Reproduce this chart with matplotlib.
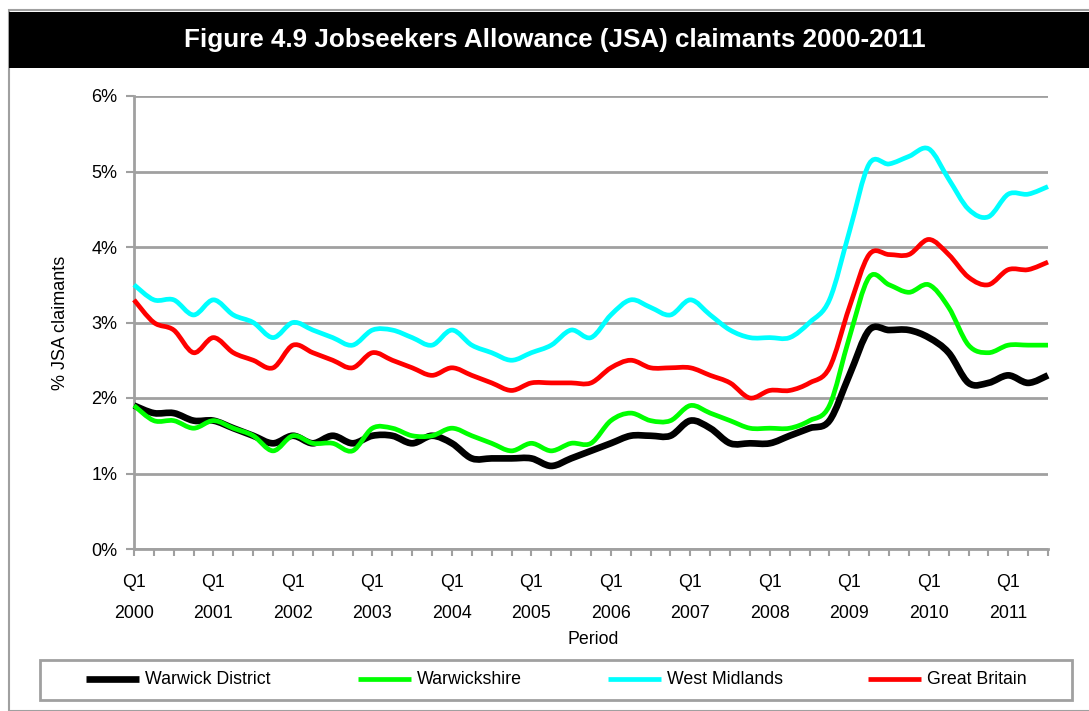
import matplotlib
matplotlib.use("Agg")
import matplotlib.pyplot as plt
from matplotlib.path import Path
from matplotlib.patches import PathPatch, Rectangle
from matplotlib.lines import Line2D
import numpy as np

plt.rcParams['font.family'] = ['Liberation Sans', 'DejaVu Sans']

years = list(range(2000, 2012))
quarters_n = 47  # 2000 Q1 .. 2011 Q3
tick_labels = [f"Q1\n{y}" for y in years]

warwick_district = [1.9, 1.8, 1.8, 1.7, 1.7, 1.6, 1.5, 1.4, 1.5, 1.4, 1.5, 1.4, 1.5, 1.5, 1.4, 1.5,
                    1.4, 1.2, 1.2, 1.2, 1.2, 1.1, 1.2, 1.3, 1.4, 1.5, 1.5, 1.5, 1.7, 1.6, 1.4, 1.4,
                    1.4, 1.5, 1.6, 1.7, 2.3, 2.9, 2.9, 2.9, 2.8, 2.6, 2.2, 2.2, 2.3, 2.2, 2.3]
warwickshire = [1.9, 1.7, 1.7, 1.6, 1.7, 1.6, 1.5, 1.3, 1.5, 1.4, 1.4, 1.3, 1.6, 1.6, 1.5, 1.5,
                1.6, 1.5, 1.4, 1.3, 1.4, 1.3, 1.4, 1.4, 1.7, 1.8, 1.7, 1.7, 1.9, 1.8, 1.7, 1.6,
                1.6, 1.6, 1.7, 1.9, 2.8, 3.6, 3.5, 3.4, 3.5, 3.2, 2.7, 2.6, 2.7, 2.7, 2.7]
west_midlands = [3.5, 3.3, 3.3, 3.1, 3.3, 3.1, 3.0, 2.8, 3.0, 2.9, 2.8, 2.7, 2.9, 2.9, 2.8, 2.7,
                 2.9, 2.7, 2.6, 2.5, 2.6, 2.7, 2.9, 2.8, 3.1, 3.3, 3.2, 3.1, 3.3, 3.1, 2.9, 2.8,
                 2.8, 2.8, 3.0, 3.3, 4.2, 5.1, 5.1, 5.2, 5.3, 4.9, 4.5, 4.4, 4.7, 4.7, 4.8]
great_britain = [3.3, 3.0, 2.9, 2.6, 2.8, 2.6, 2.5, 2.4, 2.7, 2.6, 2.5, 2.4, 2.6, 2.5, 2.4, 2.3,
                 2.4, 2.3, 2.2, 2.1, 2.2, 2.2, 2.2, 2.2, 2.4, 2.5, 2.4, 2.4, 2.4, 2.3, 2.2, 2.0,
                 2.1, 2.1, 2.2, 2.4, 3.2, 3.9, 3.9, 3.9, 4.1, 3.9, 3.6, 3.5, 3.7, 3.7, 3.8]

series = [
    ("Warwick District", warwick_district, "#000000", 4.8),
    ("Warwickshire", warwickshire, "#00FF00", 3.4),
    ("West Midlands", west_midlands, "#00FFFF", 3.4),
    ("Great Britain", great_britain, "#FF0000", 3.4),
]

W, H = 1089, 711
fig = plt.figure(figsize=(W / 100, H / 100), dpi=100)

def fx(px):
    return px / W

def fy(py):
    return 1 - py / H

# outer frame and title bar
fig.patches.append(Rectangle((fx(9), fy(711)), fx(1089 - 9) + 0.01, fy(10) - fy(711),
                             transform=fig.transFigure, facecolor='white',
                             edgecolor='#A0A0A0', linewidth=1.5, zorder=0))
fig.patches.append(Rectangle((fx(9), fy(68)), 1.0, fy(12) - fy(68),
                             transform=fig.transFigure, facecolor='black',
                             edgecolor='none', zorder=1))
fig.text(fx(555), fy(40), "Figure 4.9 Jobseekers Allowance (JSA) claimants 2000-2011",
         color='white', fontsize=18.7, fontweight='bold', ha='center', va='center')

ax = fig.add_axes([fx(134), fy(549), fx(1048) - fx(134), fy(96) - fy(549)])
ax.set_zorder(5)
ax.patch.set_visible(False)
grid_c = '#A0A0A0'
x = np.arange(quarters_n)


def smooth_path(xs, ys):
    pts = np.column_stack([xs, ys])
    n = len(pts)
    verts = [pts[0]]
    codes = [Path.MOVETO]
    for i in range(n - 1):
        p0 = pts[i - 1] if i > 0 else pts[i]
        p1 = pts[i]
        p2 = pts[i + 1]
        p3 = pts[i + 2] if i + 2 < n else pts[i + 1]
        c1 = p1 + (p2 - p0) / 6.0
        c2 = p2 - (p3 - p1) / 6.0
        verts += [c1, c2, p2]
        codes += [Path.CURVE4] * 3
    return Path(verts, codes)


for name, vals, color, lw in series:
    patch = PathPatch(smooth_path(x, np.array(vals, dtype=float)), facecolor='none',
                      edgecolor=color, linewidth=lw, capstyle='butt', joinstyle='round',
                      zorder=3, clip_on=False)
    ax.add_patch(patch)

ax.set_xlim(0, quarters_n - 1)
ax.set_ylim(0, 6)
ax.set_yticks(range(0, 7))
ax.set_yticklabels([f"{v}%" for v in range(0, 7)], fontsize=13)
ax.yaxis.grid(True, color=grid_c, linewidth=2)
ax.set_axisbelow(True)
ax.set_xticks(x, minor=True)
ax.set_xticks(x[::4])
ax.set_xticklabels(tick_labels, fontsize=12.8, linespacing=2.05)
ax.tick_params(axis='x', which='both', length=5, width=1.5, color=grid_c, pad=13)
ax.tick_params(axis='y', length=6, width=1.5, color=grid_c, pad=6)
for s in ['top', 'right']:
    ax.spines[s].set_visible(False)
for s in ['left', 'bottom']:
    ax.spines[s].set_color(grid_c)
    ax.spines[s].set_linewidth(2)

ax.set_ylabel("% JSA claimants", fontsize=13, labelpad=16)
fig.text(fx(593), fy(640), "Period", fontsize=12.8, ha='center', va='center')

# legend
fig.patches.append(Rectangle((fx(40), fy(700)), fx(1072) - fx(40), fy(660) - fy(700),
                             transform=fig.transFigure, facecolor='white',
                             edgecolor='#A0A0A0', linewidth=2, zorder=1))
leg_x = [86, 358, 608, 868]
for (name, vals, color, lw), lx in zip(series, leg_x):
    fig.lines.append(Line2D([fx(lx), fx(lx + 53)], [fy(679), fy(679)], transform=fig.transFigure,
                            color=color, linewidth=lw, solid_capstyle='butt', zorder=2))
    fig.text(fx(lx + 59), fy(680), name, fontsize=12.8, ha='left', va='center', zorder=2)

fig.savefig("out.png", dpi=100)
